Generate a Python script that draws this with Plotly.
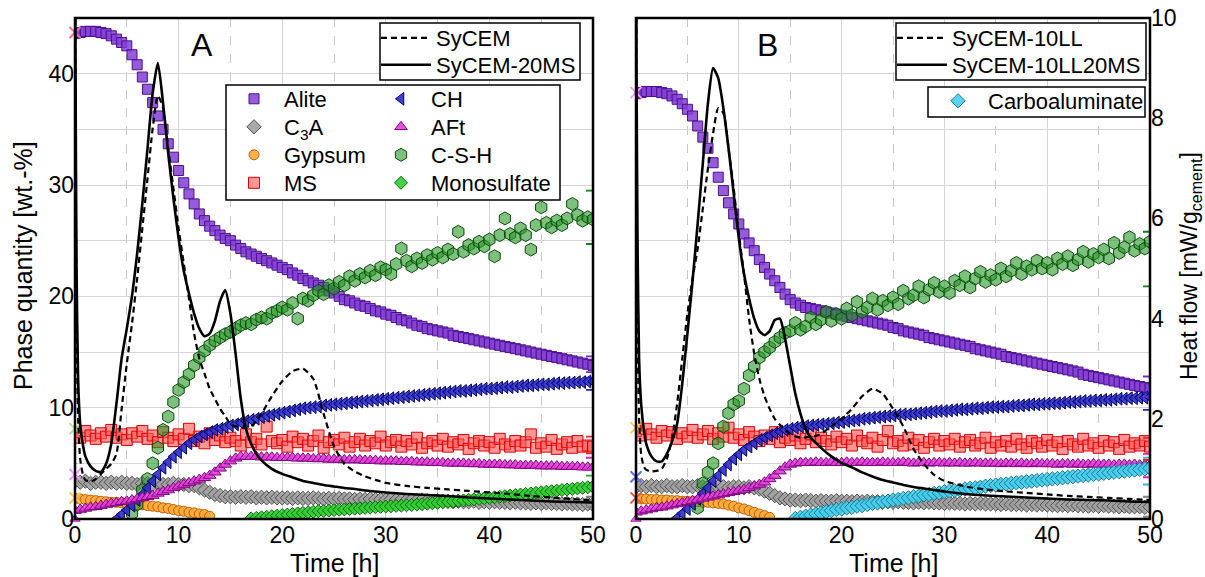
import plotly.graph_objects as go

W, H = 1205, 577
FONT = "Liberation Sans, Arial, sans-serif"

# ---------------- data ----------------
time_h = [0, 0.5, 1, 1.5, 2, 2.5, 3, 3.5, 4, 4.5,
          5, 5.5, 6, 6.5, 7, 7.5, 8, 8.5, 9, 9.5,
          10, 10.5, 11, 11.5, 12, 12.5, 13, 13.5, 14, 14.5,
          15, 15.5, 16, 16.5, 17, 17.5, 18, 18.5, 19, 19.5,
          20, 20.5, 21, 21.5, 22, 22.5, 23, 23.5, 24, 24.5,
          25, 25.5, 26, 26.5, 27, 27.5, 28, 28.5, 29, 29.5,
          30, 30.5, 31, 31.5, 32, 32.5, 33, 33.5, 34, 34.5,
          35, 35.5, 36, 36.5, 37, 37.5, 38, 38.5, 39, 39.5,
          40, 40.5, 41, 41.5, 42, 42.5, 43, 43.5, 44, 44.5,
          45, 45.5, 46, 46.5, 47, 47.5, 48, 48.5, 49, 49.5, 50]

# Panel A (SyCEM-20MS) phase quantities [wt.-%]
alite_a = [43.6, 43.7, 43.8, 43.8, 43.8, 43.7, 43.6, 43.4, 43.1, 42.8,
           42.5, 41.7, 40.8, 39.7, 38.6, 37.4, 36.2, 35.0, 33.7, 32.5,
           31.3, 30.2, 29.2, 28.3, 27.4, 26.8, 26.3, 25.9, 25.5, 25.2,
           25.0, 24.6, 24.3, 24.0, 23.8, 23.6, 23.4, 23.2, 23.0, 22.8,
           22.6, 22.4, 22.1, 21.9, 21.6, 21.4, 21.2, 21.0, 20.8, 20.5,
           20.3, 20.0, 19.7, 19.6, 19.4, 19.2, 19.1, 18.9, 18.7, 18.6,
           18.4, 18.3, 18.1, 17.9, 17.8, 17.6, 17.4, 17.3, 17.1, 17.0,
           16.9, 16.8, 16.7, 16.5, 16.4, 16.3, 16.2, 16.1, 16.0, 15.9,
           15.8, 15.7, 15.6, 15.5, 15.4, 15.3, 15.2, 15.1, 15.0, 14.9,
           14.8, 14.7, 14.6, 14.5, 14.4, 14.3, 14.2, 14.1, 14.0, 13.9, 13.8]
c3a_a = [3.4, 3.3, 3.4, 3.2, 3.3, 3.3, 3.2, 3.3, 3.2, 3.3,
         3.2, 3.2, 3.1, 3.2, 3.2, 3.1, 3.2, 3.1, 3.1, 3.2,
         3.1, 3.1, 3.0, 3.0, 2.8, 2.6, 2.4, 2.2, 2.1, 2.0,
         2.0, 1.95, 2.0, 1.95, 2.0, 1.9, 1.95, 1.9, 1.95, 1.9,
         1.9, 1.9, 1.85, 1.9, 1.85, 1.85, 1.9, 1.85, 1.8, 1.85,
         1.8, 1.85, 1.8, 1.8, 1.75, 1.8, 1.75, 1.8, 1.75, 1.75,
         1.7, 1.75, 1.7, 1.7, 1.65, 1.7, 1.65, 1.7, 1.65, 1.6,
         1.65, 1.6, 1.6, 1.55, 1.6, 1.55, 1.55, 1.6, 1.5, 1.55,
         1.5, 1.55, 1.5, 1.5, 1.45, 1.5, 1.45, 1.45, 1.4, 1.45,
         1.4, 1.45, 1.4, 1.4, 1.35, 1.4, 1.35, 1.35, 1.3, 1.35, 1.3]
gypsum_a = ([1.85, 1.8, 1.75, 1.7, 1.65, 1.6, 1.55, 1.5, 1.5, 1.45,
             1.4, 1.35, 1.3, 1.28, 1.2, 1.15, 1.1, 1.0, 0.95, 0.85,
             0.75, 0.7, 0.6, 0.55, 0.45, 0.4, 0.25] + [None] * 74)
ms_a = [7.8, 7.3, 7.9, 7.5, 7.2, 7.7, 7.4, 8.0, 7.3, 7.6,
        7.1, 7.7, 7.4, 7.9, 7.2, 7.5, 6.9, 7.8, 7.3, 7.0,
        7.6, 7.2, 8.1, 7.0, 7.4, 6.8, 7.7, 7.1, 7.5, 6.9,
        7.3, 7.0, 6.6, 7.6, 6.9, 7.2, 6.7, 8.3, 7.0, 6.8,
        7.1, 6.5, 7.4, 6.9, 7.2, 6.6, 7.0, 7.5, 6.4, 6.9,
        7.1, 6.7, 7.3, 6.5, 6.9, 7.2, 6.6, 7.0, 6.8, 7.4,
        6.6, 6.9, 7.1, 6.5, 7.0, 6.7, 7.3, 6.4, 6.8, 7.0,
        6.6, 7.2, 6.5, 6.9, 6.7, 7.1, 6.3, 6.8, 7.0, 6.6,
        6.9, 6.4, 7.2, 6.7, 6.5, 7.0, 6.6, 6.9, 7.6, 6.4,
        6.8, 6.5, 7.1, 6.3, 6.7, 6.9, 6.4, 7.0, 6.5, 6.6, 6.5]
ch_a = ([None] * 8 +
        [0.0, 0.4,
         0.8, 1.2, 1.7, 2.2, 2.8, 3.4, 4.0, 4.6, 5.1, 5.6,
         6.0, 6.4, 6.8, 7.1, 7.4, 7.6, 7.8, 8.0, 8.1, 8.25,
         8.4, 8.5, 8.65, 8.8, 8.9, 9.0, 9.15, 9.25, 9.35, 9.45,
         9.55, 9.65, 9.75, 9.85, 9.95, 10.0, 10.05, 10.1, 10.2, 10.25,
         10.3, 10.35, 10.4, 10.45, 10.5, 10.55, 10.6, 10.65, 10.7, 10.75,
         10.8, 10.85, 10.9, 10.95, 11.0, 11.05, 11.1, 11.15, 11.2, 11.25,
         11.3, 11.35, 11.4, 11.45, 11.5, 11.5, 11.55, 11.6, 11.65, 11.7,
         11.7, 11.75, 11.8, 11.85, 11.85, 11.9, 11.95, 12.0, 12.0, 12.05,
         12.1, 12.1, 12.15, 12.2, 12.2, 12.25, 12.25, 12.3, 12.3, 12.35, 12.35])
aft_a = [0.75, 0.85, 0.95, 1.05, 1.1, 1.2, 1.3, 1.4, 1.45, 1.55,
         1.6, 1.7, 1.8, 1.9, 2.0, 2.1, 2.3, 2.45, 2.6, 2.8,
         2.95, 3.1, 3.25, 3.4, 3.55, 3.7, 3.9, 4.2, 4.55, 4.9,
         5.2, 5.45, 5.6, 5.6, 5.6, 5.6, 5.55, 5.55, 5.55, 5.5,
         5.5, 5.5, 5.5, 5.45, 5.45, 5.45, 5.4, 5.4, 5.4, 5.35,
         5.35, 5.35, 5.3, 5.3, 5.3, 5.3, 5.25, 5.25, 5.25, 5.2,
         5.2, 5.2, 5.2, 5.15, 5.15, 5.15, 5.1, 5.1, 5.1, 5.05,
         5.05, 5.05, 5.0, 5.0, 5.0, 5.0, 4.95, 4.95, 4.95, 4.9,
         4.9, 4.9, 4.9, 4.85, 4.85, 4.85, 4.8, 4.8, 4.8, 4.8,
         4.75, 4.75, 4.75, 4.75, 4.7, 4.7, 4.7, 4.7, 4.65, 4.65, 4.65]
csh_a = ([None] * 11 +
         [0.5, 1.3, 2.6, 3.6, 5.0, 6.4, 8.0, 9.2, 10.5,
          11.6, 12.3, 13.0, 13.8, 14.5, 15.1, 15.6, 16.0, 16.3, 16.6,
          16.8, 17.1, 17.4, 17.6, 17.5, 17.9, 18.1, 18.0, 18.5, 18.7,
          19.0, 18.8, 19.4, 18.0, 19.8, 19.6, 20.1, 20.5, 20.2, 21.0,
          20.7, 21.3, 21.0, 21.8, 21.4, 22.0, 21.7, 22.3, 21.9, 22.6,
          22.4, 22.0, 22.9, 24.3, 23.2, 22.7, 23.4, 23.0, 23.7, 23.3,
          23.9, 23.5, 24.2, 23.8, 25.8, 24.0, 24.6, 24.3, 24.9, 24.5,
          25.1, 23.6, 25.5, 27.0, 25.6, 25.3, 26.1, 25.5, 24.2, 26.4,
          28.0, 26.6, 26.2, 26.8, 26.4, 27.0, 28.3, 27.3, 26.8, 27.1, 26.9])
mono_a = ([None] * 34 +
          [0.05, 0.1, 0.15, 0.2, 0.25, 0.3,
           0.35, 0.4, 0.45, 0.5, 0.55, 0.6, 0.65, 0.7, 0.72, 0.76,
           0.8, 0.83, 0.86, 0.9, 0.93, 0.96, 1.0, 1.03, 1.06, 1.09,
           1.12, 1.15, 1.18, 1.2, 1.23, 1.26, 1.3, 1.33, 1.37, 1.41,
           1.45, 1.5, 1.54, 1.58, 1.63, 1.67, 1.72, 1.76, 1.8, 1.85,
           1.9, 1.95, 2.0, 2.05, 2.1, 2.15, 2.2, 2.25, 2.3, 2.35,
           2.4, 2.45, 2.5, 2.55, 2.6, 2.65, 2.7, 2.75, 2.8, 2.85, 2.9])

# Panel B (SyCEM-10LL20MS) phase quantities [wt.-%]
alite_b = [38.2, 38.3, 38.4, 38.4, 38.4, 38.3, 38.2, 38.0, 37.7, 37.3,
           36.8, 36.2, 35.3, 34.3, 33.3, 32.0, 30.7, 29.5, 28.4, 27.4,
           26.5, 25.6, 24.8, 24.1, 23.3, 22.6, 22.0, 21.4, 20.8, 20.2,
           19.7, 19.4, 19.2, 19.0, 18.9, 18.8, 18.7, 18.6, 18.5, 18.4,
           18.3, 18.2, 18.1, 18.0, 17.9, 17.8, 17.7, 17.6, 17.5, 17.4,
           17.2, 17.1, 16.9, 16.8, 16.7, 16.6, 16.5, 16.3, 16.2, 16.1,
           16.0, 15.9, 15.8, 15.7, 15.6, 15.5, 15.3, 15.2, 15.1, 15.0,
           14.9, 14.8, 14.6, 14.5, 14.4, 14.3, 14.2, 14.1, 14.0, 13.9,
           13.8, 13.7, 13.6, 13.5, 13.4, 13.3, 13.2, 13.0, 12.9, 12.8,
           12.7, 12.6, 12.5, 12.4, 12.3, 12.2, 12.1, 12.0, 11.9, 11.8, 11.7]
c3a_b = [2.9, 3.0, 2.9, 3.0, 2.9, 2.9, 3.0, 2.9, 2.9, 3.0,
         2.9, 2.9, 3.0, 2.9, 2.9, 2.8, 2.9, 2.9, 2.8, 2.9,
         2.9, 2.8, 2.9, 2.8, 2.7, 2.5, 2.3, 2.1, 1.9, 1.8,
         1.7, 1.7, 1.65, 1.7, 1.65, 1.6, 1.65, 1.6, 1.6, 1.65,
         1.6, 1.6, 1.55, 1.6, 1.55, 1.6, 1.55, 1.55, 1.5, 1.55,
         1.5, 1.55, 1.5, 1.5, 1.45, 1.5, 1.45, 1.5, 1.45, 1.45,
         1.4, 1.45, 1.4, 1.4, 1.35, 1.4, 1.35, 1.4, 1.35, 1.35,
         1.35, 1.3, 1.35, 1.3, 1.3, 1.3, 1.25, 1.3, 1.25, 1.3,
         1.25, 1.25, 1.2, 1.25, 1.2, 1.25, 1.2, 1.2, 1.15, 1.2,
         1.15, 1.2, 1.15, 1.15, 1.1, 1.15, 1.1, 1.1, 1.1, 1.05, 1.1]
gypsum_b = ([1.85, 1.8, 1.8, 1.75, 1.75, 1.7, 1.7, 1.65, 1.65, 1.6,
             1.6, 1.55, 1.55, 1.5, 1.5, 1.45, 1.4, 1.35, 1.25, 1.15,
             1.0, 0.9, 0.75, 0.6, 0.45, 0.3, 0.15] + [None] * 74)
ms_b = [7.9, 7.5, 8.1, 7.6, 7.3, 7.9, 7.5, 7.8, 7.2, 7.7,
        7.4, 8.0, 7.3, 7.6, 7.9, 7.2, 7.7, 7.4, 8.2, 7.3,
        7.6, 7.1, 7.8, 7.4, 7.0, 7.5, 7.2, 7.8, 6.9, 7.3,
        7.1, 7.5, 6.8, 7.2, 7.6, 6.9, 7.3, 7.0, 6.7, 7.4,
        6.9, 7.2, 6.6, 7.5, 7.0, 6.8, 7.3, 6.5, 7.1, 7.9,
        6.8, 7.0, 6.6, 7.3, 6.7, 7.1, 6.4, 6.9, 7.2, 6.6,
        7.0, 6.7, 7.2, 6.5, 6.9, 7.1, 6.6, 6.8, 7.3, 6.4,
        6.9, 6.6, 7.0, 6.5, 7.2, 6.7, 6.4, 7.0, 6.8, 6.5,
        7.1, 6.6, 6.9, 6.3, 7.0, 6.7, 6.5, 7.2, 6.6, 6.8,
        6.4, 7.0, 6.6, 6.9, 6.3, 7.1, 6.5, 6.8, 6.6, 7.0, 6.5]
ch_b = ([None] * 8 +
        [0.1, 0.5,
         0.9, 1.35, 1.8, 2.3, 2.8, 3.4, 3.9, 4.4, 4.9, 5.4,
         5.8, 6.2, 6.5, 6.8, 7.1, 7.3, 7.5, 7.7, 7.85, 8.0,
         8.1, 8.2, 8.3, 8.35, 8.4, 8.45, 8.5, 8.55, 8.6, 8.65,
         8.7, 8.8, 8.85, 8.9, 9.0, 9.05, 9.1, 9.15, 9.2, 9.25,
         9.3, 9.35, 9.4, 9.4, 9.45, 9.5, 9.55, 9.6, 9.65, 9.7,
         9.7, 9.75, 9.8, 9.85, 9.85, 9.9, 9.95, 9.95, 10.0, 10.05,
         10.05, 10.1, 10.1, 10.15, 10.2, 10.2, 10.25, 10.3, 10.3, 10.35,
         10.35, 10.4, 10.4, 10.45, 10.5, 10.5, 10.55, 10.6, 10.6, 10.65,
         10.65, 10.7, 10.7, 10.75, 10.8, 10.8, 10.85, 10.85, 10.9, 10.9, 10.95])
aft_b = [0.6, 0.7, 0.8, 0.9, 1.0, 1.05, 1.15, 1.25, 1.35, 1.45,
         1.55, 1.65, 1.75, 1.85, 1.95, 2.05, 2.15, 2.25, 2.35, 2.45,
         2.55, 2.65, 2.8, 2.95, 3.1, 3.3, 3.6, 3.9, 4.3, 4.65,
         4.9, 5.0, 5.05, 5.05, 5.05, 5.1, 5.05, 5.05, 5.1, 5.05,
         5.05, 5.1, 5.05, 5.05, 5.1, 5.05, 5.05, 5.05, 5.1, 5.05,
         5.05, 5.05, 5.1, 5.05, 5.0, 5.05, 5.05, 5.0, 5.05, 5.05,
         5.0, 5.05, 5.0, 5.05, 5.0, 5.0, 5.05, 5.0, 5.0, 5.0,
         5.0, 4.95, 5.0, 5.0, 4.95, 5.0, 4.95, 4.95, 5.0, 4.95,
         4.95, 4.95, 4.9, 4.95, 4.95, 4.9, 4.95, 4.9, 4.9, 4.95,
         4.9, 4.9, 4.9, 4.85, 4.9, 4.9, 4.85, 4.9, 4.85, 4.85, 4.85]
csh_b = ([None] * 12 +
         [1.0, 3.2, 4.2, 5.0, 6.8, 8.3, 9.5, 10.3,
          10.6, 11.7, 12.9, 13.7, 14.5, 15.0, 15.4, 15.9, 16.3, 16.7,
          16.9, 17.6, 17.0, 17.3, 18.1, 17.5, 17.9, 18.6, 17.8, 18.4,
          18.0, 18.9, 18.3, 19.5, 18.6, 19.0, 19.8, 18.8, 19.6, 19.2,
          19.9, 19.3, 20.5, 19.8, 20.1, 20.9, 19.9, 20.6, 21.2, 20.4,
          20.9, 20.3, 21.4, 21.0, 21.8, 20.8, 21.6, 22.2, 21.3, 21.9,
          21.5, 22.5, 21.8, 22.3, 23.0, 22.0, 22.7, 22.4, 23.2, 22.5,
          23.0, 22.4, 23.4, 22.9, 23.6, 22.8, 23.3, 24.0, 23.1, 23.8,
          23.5, 24.2, 23.4, 24.8, 23.9, 24.4, 25.3, 24.1, 24.7, 24.3, 24.9])
carbo_b = ([None] * 31 +
           [0.05, 0.15, 0.25, 0.35, 0.45, 0.55, 0.65, 0.75, 0.85,
            0.9, 1.0, 1.05, 1.15, 1.2, 1.3, 1.4, 1.45, 1.55, 1.6,
            1.7, 1.75, 1.85, 1.9, 2.0, 2.05, 2.15, 2.2, 2.3, 2.35,
            2.45, 2.5, 2.55, 2.6, 2.7, 2.75, 2.8, 2.85, 2.95, 3.0,
            3.05, 3.1, 3.15, 3.2, 3.25, 3.3, 3.35, 3.4, 3.45, 3.5,
            3.55, 3.6, 3.65, 3.7, 3.75, 3.8, 3.85, 3.9, 3.95, 4.0,
            4.05, 4.1, 4.15, 4.2, 4.25, 4.3, 4.35, 4.4, 4.45, 4.5, 4.55])

# Heat flow [mW/g_cement]
heat_t = [0, 0.05, 0.15, 0.3, 0.5, 0.75, 1.0, 1.5, 2.0, 2.5,
          3.0, 3.5, 4.0, 4.5, 5.0, 5.5, 6.0, 6.5, 7.0, 7.5,
          8.0, 8.5, 9.0, 9.5, 10.0, 10.5, 11.0, 11.5, 12.0, 12.5,
          13.0, 13.5, 14.0, 14.5, 15.0, 15.5, 16.0, 16.5, 17.0, 17.5,
          18, 19, 20, 21, 22, 23, 24, 25, 26, 27,
          28, 29, 30, 32, 34, 36, 38, 40, 42, 44,
          46, 48, 50]
heat_sycem = [12, 8.0, 4.0, 2.0, 1.2, 0.9, 0.78, 0.74, 0.8, 0.9,
              1.0, 1.1, 1.3, 2.2, 3.1, 3.9, 4.8, 5.8, 6.8, 7.8,
              8.45, 8.2, 7.4, 6.6, 5.8, 5.1, 4.4, 3.7, 3.2, 2.9,
              2.6, 2.4, 2.2, 2.05, 1.9, 1.85, 1.82, 1.82, 1.85, 1.95,
              2.1, 2.45, 2.75, 2.95, 3.0, 2.8, 2.1, 1.45, 1.1, 0.95,
              0.85, 0.78, 0.72, 0.66, 0.62, 0.59, 0.56, 0.53, 0.5, 0.46,
              0.43, 0.4, 0.37]
heat_sycem_20ms = [12, 9.0, 5.0, 2.8, 1.9, 1.5, 1.25, 1.05, 0.96, 0.94,
                   1.1, 1.5, 2.3, 3.2, 3.8, 4.45, 5.3, 6.3, 7.4, 8.5,
                   9.1, 8.3, 7.3, 6.4, 5.6, 4.95, 4.5, 4.1, 3.8, 3.65,
                   3.7, 3.95, 4.35, 4.57, 4.1, 3.3, 2.4, 1.8, 1.5, 1.3,
                   1.17, 1.0, 0.9, 0.83, 0.76, 0.72, 0.68, 0.65, 0.62, 0.6,
                   0.57, 0.55, 0.53, 0.5, 0.48, 0.46, 0.43, 0.41, 0.39, 0.37,
                   0.35, 0.34, 0.33]
heat_10ll = [12, 8.0, 4.0, 2.0, 1.3, 1.05, 0.98, 0.95, 0.96, 1.0,
             1.2, 1.6, 2.3, 3.2, 4.1, 4.8, 5.4, 6.2, 7.0, 7.7,
             8.2, 8.1, 7.4, 6.6, 5.7, 4.9, 4.0, 3.3, 2.8, 2.45,
             2.2, 2.0, 1.88, 1.78, 1.7, 1.65, 1.63, 1.63, 1.64, 1.66,
             1.7, 1.85, 2.0, 2.2, 2.45, 2.6, 2.5, 2.2, 1.85, 1.4,
             1.1, 0.88, 0.76, 0.65, 0.59, 0.55, 0.52, 0.49, 0.46, 0.44,
             0.42, 0.4, 0.38]
heat_10ll_20ms = [12, 9.0, 5.5, 3.2, 2.3, 1.8, 1.5, 1.25, 1.15, 1.15,
                  1.3, 1.55, 1.9, 2.7, 3.7, 4.75, 5.9, 7.1, 8.3, 9.0,
                  8.8, 8.2, 7.4, 6.5, 5.6, 4.9, 4.4, 4.0, 3.75, 3.67,
                  3.75, 3.97, 4.0, 3.6, 3.05, 2.5, 2.1, 1.8, 1.62, 1.52,
                  1.42, 1.25, 1.12, 1.03, 0.93, 0.85, 0.78, 0.73, 0.68, 0.64,
                  0.61, 0.58, 0.55, 0.5, 0.47, 0.45, 0.43, 0.41, 0.39, 0.38,
                  0.37, 0.35, 0.34]

# start values (t = 0) and final uncertainty (t = 50)
start_a = {"alite": 43.7, "ms": 8.1, "c3a": 4.0, "gypsum": 1.9}
start_b = {"alite": 38.3, "ms": 8.2, "c3a": 3.8, "gypsum": 1.9}
err_a = {"alite": (13.9, 0.7), "ch": (12.15, 0.55), "csh": (27.1, 2.4), "ms": (6.65, 0.75),
         "aft": (4.95, 0.55), "mono": (2.7, 1.2), "c3a": (1.55, 0.45)}
err_b = {"alite": (11.9, 0.9), "ch": (10.55, 0.75), "csh": (23.35, 2.45), "ms": (6.3, 1.0),
         "aft": (4.8, 1.05), "carbo": (4.3, 1.2), "c3a": (1.1, 0.9)}

# ---------------- styles ----------------
ST = {
    "alite": dict(symbol="square", size=10, color="rgba(130,62,212,0.85)", line=dict(color="#4c0f90", width=1)),
    "c3a": dict(symbol="diamond", size=11, color="rgba(160,160,160,0.9)", line=dict(color="#505050", width=1)),
    "gypsum": dict(symbol="circle", size=10, color="rgba(250,170,60,0.9)", line=dict(color="#c06000", width=1)),
    "ms": dict(symbol="square", size=11, color="rgba(255,80,80,0.6)", line=dict(color="#dd0000", width=1)),
    "ch": dict(symbol="triangle-left", size=11, color="rgba(45,45,200,0.9)", line=dict(color="#000068", width=1)),
    "aft": dict(symbol="triangle-up", size=11, color="rgba(225,60,215,0.9)", line=dict(color="#800880", width=1)),
    "csh": dict(symbol="hexagon", size=13, color="rgba(40,150,40,0.6)", line=dict(color="#0b4d0b", width=1)),
    "mono": dict(symbol="diamond", size=10, color="rgba(50,205,50,0.9)", line=dict(color="#0a6a0a", width=1)),
    "carbo": dict(symbol="diamond", size=11, color="rgba(70,205,235,0.9)", line=dict(color="#1a7a90", width=1)),
}
EDGE = {"alite": "#7a2ad0", "c3a": "#808080", "gypsum": "#f08a10", "ms": "#ff2020", "ch": "#2020e0",
        "aft": "#e020d0", "csh": "#108010", "mono": "#20b020", "carbo": "#20c0e0"}


def px_x(p):
    return p / W


def px_y(p):
    return 1 - p / H


LEGF = dict(family=FONT, size=22, color="black")
# one legend per entry so that every row sits where the reference puts it
# (legend id, symbol-centre x px, row-centre y px, item width)
LEG_POS = {
    "legend": (405, 38, 50), "legend2": (405, 65, 50),           # heat flow A
    "legend3": (253, 99, 50), "legend4": (253, 127, 50), "legend5": (253, 155, 50), "legend6": (253, 183, 50),
    "legend7": (400, 99, 50), "legend8": (400, 127, 50), "legend9": (400, 155, 50), "legend10": (400, 183, 50),
    "legend11": (921, 38, 50), "legend12": (921, 65, 50),        # heat flow B
    "legend13": (957, 101, 50),                                   # carboaluminate
}

fig = go.Figure()


def phase(y, key, name, xa, ya, legend=None):
    fig.add_trace(go.Scatter(
        x=time_h, y=y, mode="markers", name=name, marker=ST[key],
        xaxis=xa, yaxis=ya, showlegend=legend is not None,
        legend=legend or "legend", hoverinfo="skip"))


# Panel A phases (draw order)
phase(alite_a, "alite", "Alite", "x", "y", "legend3")
phase(c3a_a, "c3a", "C<sub>3</sub>A", "x", "y", "legend4")
phase(gypsum_a, "gypsum", "Gypsum", "x", "y", "legend5")
phase(ms_a, "ms", "MS", "x", "y", "legend6")
phase(csh_a, "csh", "C-S-H", "x", "y", "legend9")
phase(ch_a, "ch", "CH", "x", "y", "legend7")
phase(aft_a, "aft", "AFt", "x", "y", "legend8")
phase(mono_a, "mono", "Monosulfate", "x", "y", "legend10")

# Panel B phases
phase(alite_b, "alite", "Alite", "x2", "y3")
phase(c3a_b, "c3a", "C3A", "x2", "y3")
phase(gypsum_b, "gypsum", "Gypsum", "x2", "y3")
phase(ms_b, "ms", "MS", "x2", "y3")
phase(csh_b, "csh", "C-S-H", "x2", "y3")
phase(ch_b, "ch", "CH", "x2", "y3")
phase(aft_b, "aft", "AFt", "x2", "y3")
phase(carbo_b, "carbo", "Carboaluminate", "x2", "y3", "legend13")

# start markers at t = 0 and error bars at t = 50
for start, err, xa, ya in [(start_a, err_a, "x", "y"), (start_b, err_b, "x2", "y3")]:
    for key, val in start.items():
        fig.add_trace(go.Scatter(x=[0], y=[val], mode="markers", showlegend=False, cliponaxis=False,
                                 marker=dict(symbol="x-thin-open", size=11, line=dict(color=EDGE[key], width=2)),
                                 xaxis=xa, yaxis=ya, hoverinfo="skip"))
    fig.add_trace(go.Scatter(x=[0], y=[0], mode="markers", showlegend=False, cliponaxis=False,
                             marker=dict(symbol="triangle-up", size=9, color="#ff66ee",
                                         line=dict(color="#aa22aa", width=1)),
                             xaxis=xa, yaxis=ya, hoverinfo="skip"))
    for key, (c, e) in err.items():
        fig.add_trace(go.Scatter(x=[50], y=[c], mode="markers", showlegend=False, cliponaxis=False,
                                 marker=dict(size=1, opacity=0),
                                 error_y=dict(type="data", array=[e], color=EDGE[key], thickness=1.8, width=7),
                                 xaxis=xa, yaxis=ya, hoverinfo="skip"))

# Heat flow curves
DASHED = dict(color="black", width=2.2, dash="6px,4px", shape="spline", smoothing=0.6)
SOLID = dict(color="black", width=2.6, shape="spline", smoothing=0.6)
fig.add_trace(go.Scatter(x=heat_t, y=heat_sycem, mode="lines", name="SyCEM", line=DASHED,
                         xaxis="x", yaxis="y2", legend="legend", hoverinfo="skip"))
fig.add_trace(go.Scatter(x=heat_t, y=heat_sycem_20ms, mode="lines", name="SyCEM-20MS", line=SOLID,
                         xaxis="x", yaxis="y2", legend="legend2", hoverinfo="skip"))
fig.add_trace(go.Scatter(x=heat_t, y=heat_10ll, mode="lines", name="SyCEM-10LL", line=DASHED,
                         xaxis="x2", yaxis="y4", legend="legend11", hoverinfo="skip"))
fig.add_trace(go.Scatter(x=heat_t, y=heat_10ll_20ms, mode="lines", name="SyCEM-10LL20MS", line=SOLID,
                         xaxis="x2", yaxis="y4", legend="legend12", hoverinfo="skip"))

# ---------------- layout ----------------
YDOM = [px_y(519), px_y(18)]
GRID = "#d4d4d4"
TICKF = dict(family=FONT, size=23, color="black")
TITLEF = dict(family=FONT, size=25, color="black")

xcommon = dict(range=[0, 50], tickvals=[0, 10, 20, 30, 40, 50], showgrid=True, gridcolor=GRID, gridwidth=1,
               minor=dict(dtick=5, tick0=0, showgrid=True, gridcolor="#c8c8c8", griddash="dash", gridwidth=1),
               showline=False, ticks="", zeroline=False, tickfont=TICKF, automargin=False)
ycommon = dict(range=[0, 45], tickvals=[0, 10, 20, 30, 40], showgrid=True, gridcolor=GRID, gridwidth=1,
               minor=dict(dtick=5, tick0=0, showgrid=True, gridcolor=GRID, gridwidth=1),
               showline=False, ticks="", zeroline=False, tickfont=TICKF, automargin=False)

legends = {}
for lid, (sx, sy, iw) in LEG_POS.items():
    legends[lid] = dict(x=px_x(sx - (iw / 2 + 4)), y=px_y(sy), xanchor="left", yanchor="middle",
                        bgcolor="rgba(0,0,0,0)", borderwidth=0, font=LEGF, itemwidth=iw)

boxes = []
for x0, x1, y0, y1 in [(380, 580, 23, 80), (226, 560, 85, 200), (896, 1146, 23, 80), (928, 1145, 87, 117)]:
    boxes.append(dict(type="rect", xref="paper", yref="paper", x0=px_x(x0), x1=px_x(x1),
                      y0=px_y(y1), y1=px_y(y0), line=dict(color="black", width=1.5),
                      fillcolor="white", layer="above"))
frames = []
for xa, ya in [("x", "y"), ("x2", "y3")]:
    frames.append(dict(type="rect", xref=xa + " domain", yref=ya + " domain", x0=0, x1=1, y0=0, y1=1,
                       line=dict(color="black", width=2.5), layer="above"))

fig.update_layout(
    width=W, height=H, margin=dict(l=0, r=0, t=0, b=0, autoexpand=False),
    paper_bgcolor="white", plot_bgcolor="white",
    font=dict(family=FONT, color="black"),
    xaxis=dict(xcommon, domain=[px_x(75), px_x(593)], anchor="y"),
    yaxis=dict(ycommon, domain=YDOM, anchor="x"),
    yaxis2=dict(range=[0, 10], overlaying="y", side="right", anchor="x", showgrid=False,
                showticklabels=False, zeroline=False, showline=False, ticks="", automargin=False),
    xaxis2=dict(xcommon, domain=[px_x(636), px_x(1150)], anchor="y3"),
    yaxis3=dict(ycommon, domain=YDOM, anchor="x2", showticklabels=False),
    yaxis4=dict(range=[0, 10], overlaying="y3", side="right", anchor="x2", showgrid=False,
                tickvals=[0, 2, 4, 6, 8, 10], tickfont=TICKF, zeroline=False, showline=False, ticks="",
                automargin=False),
    shapes=boxes + frames,
    annotations=[
        dict(text="A", x=12.3, y=42.6, xref="x", yref="y", showarrow=False,
             font=dict(family=FONT, size=32, color="black")),
        dict(text="B", x=12.8, y=42.6, xref="x2", yref="y3", showarrow=False,
             font=dict(family=FONT, size=32, color="black")),
        dict(text="Time [h]", x=px_x(334), y=px_y(563), xref="paper", yref="paper", showarrow=False,
             xanchor="center", yanchor="middle", font=TITLEF),
        dict(text="Time [h]", x=px_x(893), y=px_y(563), xref="paper", yref="paper", showarrow=False,
             xanchor="center", yanchor="middle", font=TITLEF),
        dict(text="Phase quantity [wt.-%]", x=px_x(23), y=px_y(266), xref="paper", yref="paper",
             showarrow=False, textangle=-90, xanchor="center", yanchor="middle", font=TITLEF),
        dict(text="Heat flow [mW/g<sub>cement</sub>]", x=px_x(1190), y=px_y(266), xref="paper", yref="paper",
             showarrow=False, textangle=-90, xanchor="center", yanchor="middle",
             font=dict(family=FONT, size=23, color="black")),
    ],
    **legends,
)

fig.write_html("out.html", config={"displayModeBar": False},
               post_script="document.body.style.margin='0px';")
